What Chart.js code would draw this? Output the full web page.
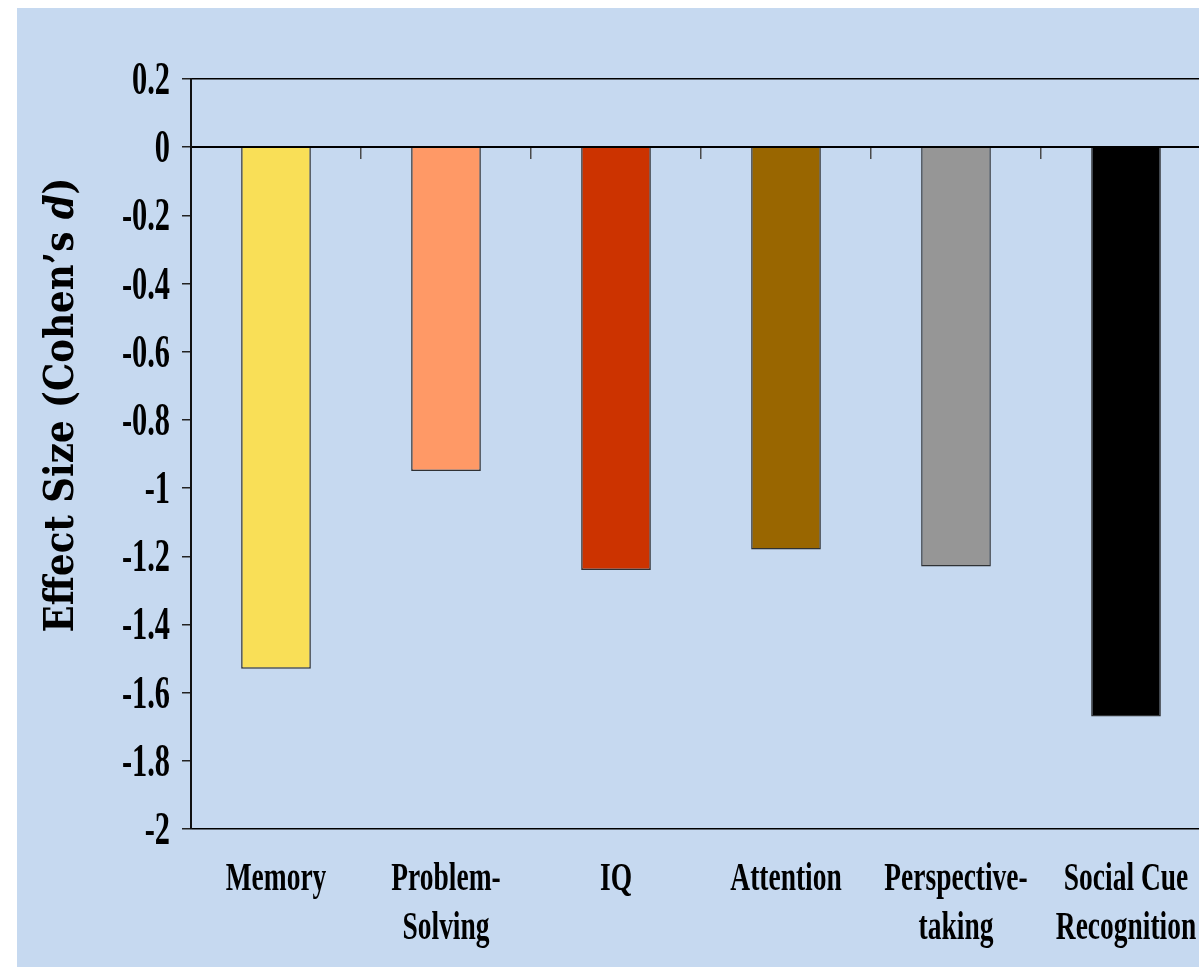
<!DOCTYPE html>
<html>
<head>
<meta charset="utf-8">
<title>Effect Size</title>
<script src="https://cdn.jsdelivr.net/npm/chart.js@4.4.1/dist/chart.umd.min.js"></script>
<style>
  body { margin: 0; background: #fff; }
  #wrap {
    position: absolute; left: 17px; top: 8px;
    width: 1182px; height: 959px;
    background: #C6D9F0; overflow: hidden;
  }
  #chart { position: absolute; left: 0; top: 0; }
</style>
</head>
<body>
<div id="wrap"><canvas id="chart" width="1200" height="959"></canvas></div>
<script>
// data
const categories = [
  ['Memory'],
  ['Problem-', 'Solving'],
  ['IQ'],
  ['Attention'],
  ['Perspective-', 'taking'],
  ['Social Cue', 'Recognition']
];
const effectSizes = [-1.53, -0.95, -1.24, -1.18, -1.23, -1.67];
const barColors = ['#F9DF57', '#FF9966', '#CC3300', '#996600', '#969696', '#000000'];
const yTickValues = [0.2, 0, -0.2, -0.4, -0.6, -0.8, -1, -1.2, -1.4, -1.6, -1.8, -2];
const yTickLabels = ['0.2', '0', '-0.2', '-0.4', '-0.6', '-0.8', '-1', '-1.2', '-1.4', '-1.6', '-1.8', '-2'];
const yTitle = ['Effect Size (Cohen\u2019s ', 'd', ')'];

// draw condensed serif text like the original slide
const drawSquished = (ctx, text, x, y, sx) => {
  ctx.save();
  ctx.translate(x, y);
  ctx.scale(sx, 1);
  ctx.fillText(text, 0, 0);
  ctx.restore();
};

const textPlugin = {
  id: 'slideText',
  afterDraw(chart) {
    const ctx = chart.ctx;
    const xs = chart.scales.x;
    const ys = chart.scales.y;
    const area = chart.chartArea;
    ctx.save();
    ctx.fillStyle = '#000';

    // y tick labels
    ctx.font = 'bold 46px "Liberation Serif"';
    ctx.textAlign = 'right';
    ctx.textBaseline = 'alphabetic';
    yTickValues.forEach((v, i) => {
      drawSquished(ctx, yTickLabels[i], area.left - 21, ys.getPixelForValue(v) + 15, 0.66);
    });

    // category labels
    ctx.font = 'bold 41px "Liberation Serif"';
    ctx.textAlign = 'center';
    categories.forEach((lines, i) => {
      const cx = xs.getPixelForValue(i);
      lines.forEach((t, j) => {
        drawSquished(ctx, t, cx, area.bottom + 61 + j * 49, 0.67);
      });
    });

    // rotated axis title, "d" in italics
    const fonts = ['bold 41px "DejaVu Serif"', 'italic bold 41px "DejaVu Serif"', 'bold 41px "DejaVu Serif"'];
    const widths = yTitle.map((t, i) => { ctx.font = fonts[i]; return ctx.measureText(t).width; });
    const total = widths.reduce((a, b) => a + b, 0);
    const sx = 455 / total;
    ctx.translate(56, 397);
    ctx.rotate(-Math.PI / 2);
    ctx.scale(sx, 1);
    ctx.textAlign = 'left';
    let pos = -total / 2;
    yTitle.forEach((t, i) => {
      ctx.font = fonts[i];
      ctx.fillText(t, pos, 0);
      pos += widths[i];
    });
    ctx.restore();
  }
};

new Chart(document.getElementById('chart'), {
  type: 'bar',
  data: {
    labels: categories,
    datasets: [{
      data: effectSizes,
      backgroundColor: barColors,
      borderColor: 'rgba(20,20,20,0.85)',
      borderWidth: 1.5,
      barPercentage: 1,
      categoryPercentage: 0.41
    }]
  },
  options: {
    responsive: false,
    animation: false,
    layout: { padding: { top: 71, right: 6, bottom: 138, left: 0 } },
    plugins: { legend: { display: false }, tooltip: { enabled: false } },
    scales: {
      x: {
        position: { y: 0 },
        grid: {
          display: true,
          drawOnChartArea: false,
          drawTicks: true,
          tickLength: 11,
          offset: true,
          color: '#4a4a4a',
          lineWidth: 1.5
        },
        border: { display: true, color: '#000', width: 2 },
        ticks: { display: false }
      },
      y: {
        min: -2,
        max: 0.2,
        afterBuildTicks: (s) => { s.ticks = yTickValues.map(v => ({ value: v })); },
        afterFit: (s) => { s.width = 174; },
        grid: {
          drawTicks: true,
          tickLength: 9,
          lineWidth: 1.5,
          color: (c) => (c.tick && (Math.abs(c.tick.value - 0.2) < 1e-6 || Math.abs(c.tick.value + 2) < 1e-6)) ? '#000' : 'rgba(0,0,0,0)',
          tickColor: '#222'
        },
        border: { display: true, color: '#111', width: 2 },
        ticks: { display: false }
      }
    }
  },
  plugins: [textPlugin]
});
</script>
</body>
</html>
